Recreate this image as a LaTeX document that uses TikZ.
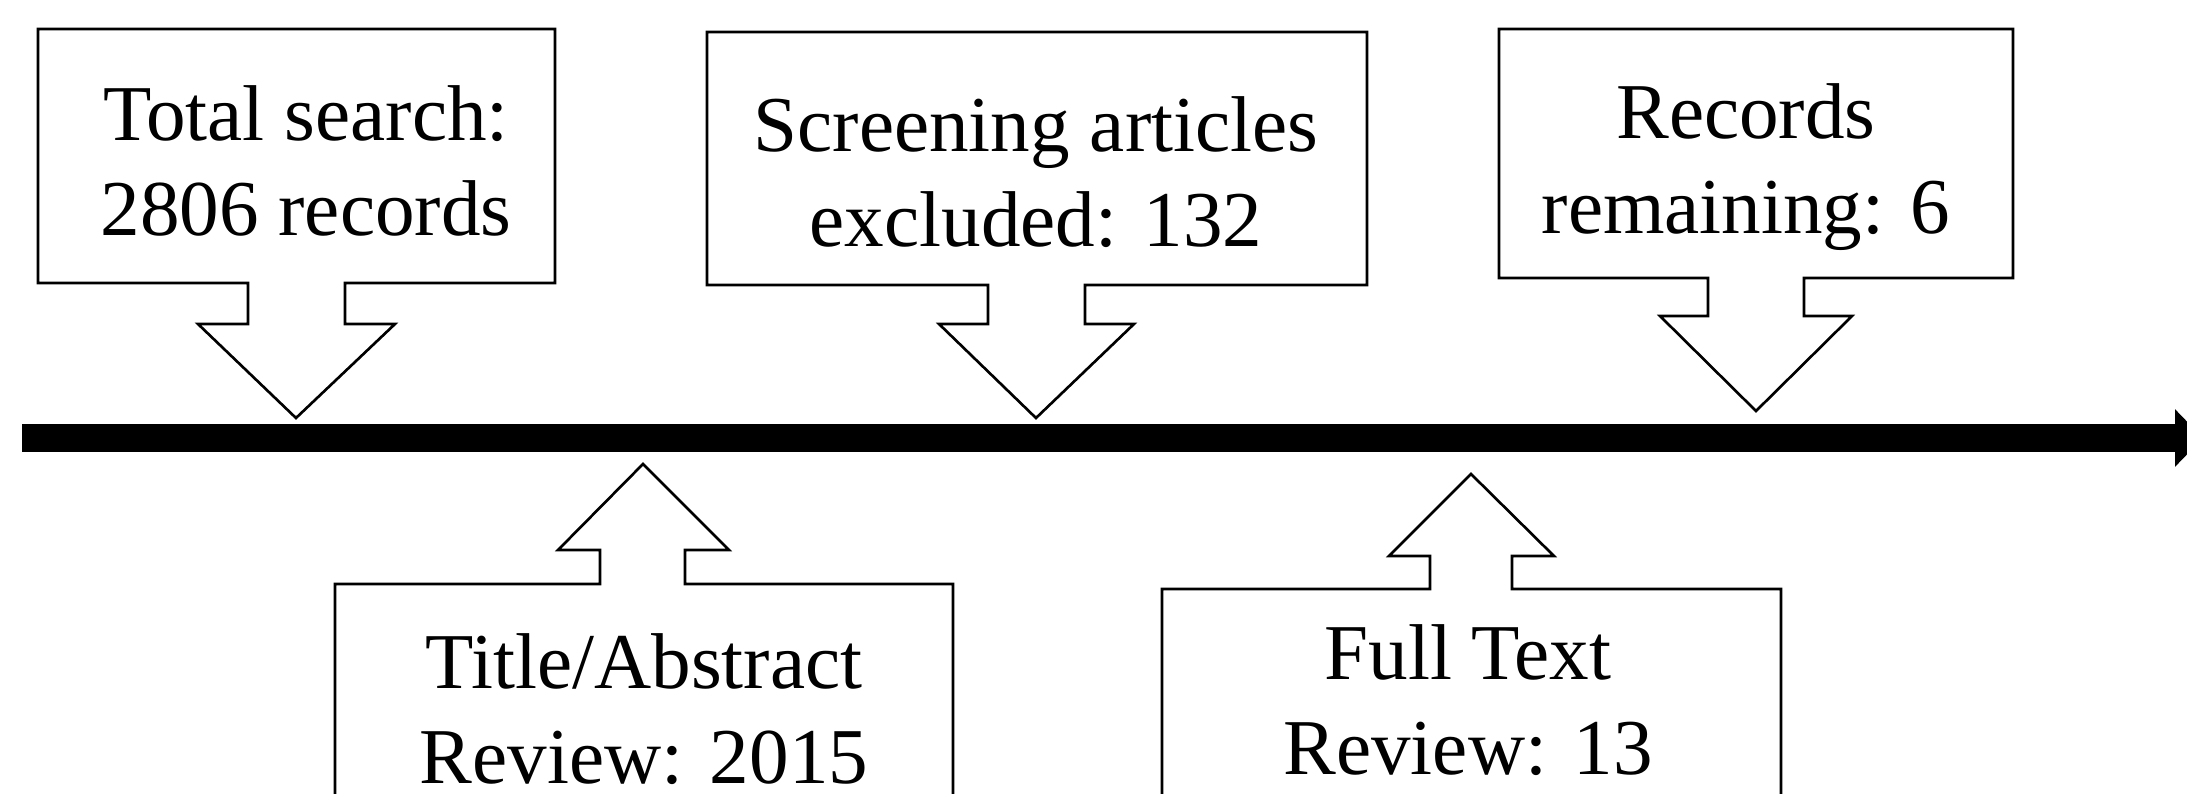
\documentclass[tikz,border=0pt]{standalone}
\usepackage{fontspec}
\setmainfont{Liberation Serif}
\usetikzlibrary{arrows.meta}
\tikzset{
  callout/.style={draw=black,line width=0.75pt,fill=white,line join=miter},
  boxtext/.style={font=\fontsize{22.5}{27}\selectfont,align=center,anchor=base,inner sep=0pt},
  timeline/.style={line width=0.28cm,-{Triangle[length=0.28cm,width=0.56cm]}}
}
\begin{document}
\begin{tikzpicture}[x=0.01cm,y=-0.01cm]
	   \useasboundingbox (0,0) rectangle (2187,793);
	   \clip (0,0) rectangle (2187,793);
	   % time line
	   \coordinate (tstart) at (22,438);
	   \coordinate (tend) at (2203,438);
	   \draw[timeline] (tstart) -- (tend);
	   % callouts above the line
	   \draw[callout] (38,29) -- (555,29) -- (555,283) -- (345,283) -- (345,324) -- (395,324) -- (296,418) -- (198,324) -- (248,324) -- (248,283) -- (38,283) -- cycle;
	   \draw[callout] (707,32) -- (1367,32) -- (1367,285) -- (1085,285) -- (1085,324) -- (1134,324) -- (1036,418) -- (939,324) -- (988,324) -- (988,285) -- (707,285) -- cycle;
	   \draw[callout] (1499,29) -- (2013,29) -- (2013,278) -- (1804,278) -- (1804,316) -- (1852,316) -- (1756,411) -- (1660,316) -- (1708,316) -- (1708,278) -- (1499,278) -- cycle;
	   % callouts below the line
	   \draw[callout] (335,810) -- (335,584) -- (600,584) -- (600,550) -- (558,550) -- (643,464) -- (729,550) -- (685,550) -- (685,584) -- (953,584) -- (953,810) -- cycle;
	   \draw[callout] (1162,810) -- (1162,589) -- (1430,589) -- (1430,556) -- (1389,556) -- (1471,474) -- (1554,556) -- (1512,556) -- (1512,589) -- (1781,589) -- (1781,810) -- cycle;
	   % texts, placed by the baseline of their last line
	   \node [boxtext] (search) at (306,235) {Total search:\\2806 records};
	   \node [boxtext] (screen) at (1036,246) {Screening articles\\excluded: 132};
	   \node [boxtext] (remain) at (1746,233) {Records\\remaining: 6};
	   \node [boxtext] (title) at (644,783) {Title/Abstract\\Review: 2015};
	   \node [boxtext] (fulltext) at (1468,774) {Full Text\\Review: 13};
\end{tikzpicture}
\end{document}
